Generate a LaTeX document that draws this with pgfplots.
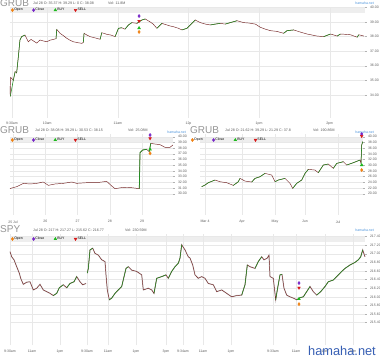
\documentclass[border=0pt]{standalone}
\usepackage{fontspec}
\setmainfont{Liberation Sans}
\usepackage{pgfplots}
\pgfplotsset{compat=1.18}
\definecolor{candleR}{RGB}{115,35,35}
\definecolor{candleG}{RGB}{35,140,35}
\definecolor{opnC}{RGB}{240,130,20}
\definecolor{clsC}{RGB}{120,40,200}
\definecolor{buyC}{RGB}{30,185,30}
\definecolor{selC}{RGB}{215,25,25}
\definecolor{hdrC}{RGB}{150,150,150}
\definecolor{hamC}{RGB}{80,150,220}
\definecolor{wmC}{RGB}{55,95,180}
\newcommand{\tf}{\fontsize{3.5}{4}\selectfont}
\newcommand{\hf}{\fontsize{3.6}{4}\selectfont}
\pgfplotsset{
  panel/.style={
    scale only axis, clip=false,
    axis line style={draw=none},
    grid=major,
    major grid style={draw=gray!18, line width=0.3pt},
    xtick style={draw=none},
    ytick style={draw=gray!60, line width=0.3pt},
    major tick length=1.5pt,
    tick align=outside,
    ytick pos=right, yticklabel pos=right,
    tick label style={font=\tf, text=gray!75!black},
    yticklabel style={/pgf/number format/.cd, fixed, fixed zerofill, precision=2, assume math mode=true},
    xticklabel style={yshift=-0.5pt},
    legend columns=4,
    legend style={draw=none, fill=none, font=\tf, anchor=west, inner sep=0pt,
      nodes={inner sep=0.6pt}, /tikz/every even column/.append style={column sep=9pt}},
    legend image code/.code={\draw[##1] plot coordinates {(1.5pt,0pt)};},
  },
  opn/.style={only marks, mark=diamond*, mark size=1.6pt, color=opnC},
  cls/.style={only marks, mark=diamond*, mark size=1.6pt, color=clsC},
  buy/.style={only marks, mark=triangle*, mark size=1.6pt, color=buyC},
  sel/.style={only marks, mark=triangle*, mark size=1.6pt, color=selC, mark options={rotate=180}},
  price/.style={candleR, line width=0.45pt, forget plot, unbounded coords=jump},
  up/.style={candleG, line width=0.55pt, forget plot, unbounded coords=jump},
  wick/.style={gray!40, line width=1.1pt, forget plot, unbounded coords=jump},
}
\begin{document}
\begin{tikzpicture}
\useasboundingbox (0pt,0pt) rectangle (380pt,-358pt);
\fill[white] (0pt,0pt) rectangle (380pt,-358pt);
% grey header bands
\fill[gray!13] (10pt,-7.3pt) rectangle (365pt,-13.5pt);
\fill[gray!13] (10pt,-137pt) rectangle (173pt,-142pt);
\fill[gray!13] (200pt,-137pt) rectangle (363pt,-142pt);
\fill[gray!13] (10pt,-236.5pt) rectangle (365pt,-241.5pt);

% ---------------- top panel: GRUB intraday
\begin{axis}[panel, at={(10pt,-7pt)}, anchor=north west, width=355pt, height=111pt,
  xmin=9.472, xmax=14.5, ymin=32.42, ymax=40.02,
  xtick={9.5,10,11,12,13,14}, xticklabels={9:30am,10am,11am,12p,1pm,2pm},
  xticklabel style={yshift=1.2pt},
  ytick={34,35,...,40},
  legend style={at={(axis description cs:0.003,0.972)}}]
\addplot[price] table[row sep=\\]{x y\\
9.472 34.60\\ 9.476 33.90\\ 9.482 35.20\\ 9.519 35.00\\ 9.545 35.60\\ 9.566 35.50\\ 9.590 36.60\\
9.613 37.76\\ 9.637 37.99\\ 9.684 38.10\\ 9.731 37.64\\ 9.770 37.80\\ 9.802 37.70\\ 9.850 37.55\\
9.897 37.76\\ 9.940 37.70\\ 9.992 37.64\\ 10.040 37.75\\ 10.086 37.80\\ 10.124 37.85\\ 10.134 38.49\\
10.181 38.22\\ 10.230 38.05\\ 10.276 37.88\\ 10.320 37.75\\ 10.370 37.64\\ 10.430 37.58\\ 10.489 37.53\\
10.511 37.60\\ 10.521 38.22\\ 10.560 38.10\\ 10.606 37.99\\ 10.680 37.90\\ 10.748 37.81\\ 10.772 38.26\\
10.843 38.15\\ 10.900 38.10\\ 10.961 37.99\\ 11.008 38.56\\ 11.056 38.60\\ 11.100 38.50\\ 11.150 38.79\\
11.198 38.95\\ 11.269 38.90\\ 11.340 39.13\\ 11.387 39.20\\ 11.457 39.00\\ 11.500 38.85\\ 11.552 38.56\\
11.623 38.90\\ 11.694 38.79\\ 11.740 38.72\\ 11.788 38.67\\ 11.859 38.56\\ 11.907 38.45\\ 11.978 38.56\\
12.025 38.79\\ 12.096 39.13\\ 12.167 38.95\\ 12.240 38.85\\ 12.309 38.79\\ 12.380 38.85\\ 12.450 38.90\\
12.520 38.85\\ 12.592 38.95\\ 12.687 39.08\\ 12.781 38.95\\ 12.860 38.92\\ 12.947 38.85\\ 13.018 38.63\\
13.090 38.50\\ 13.160 38.40\\ 13.250 38.35\\ 13.348 38.22\\ 13.396 38.40\\ 13.490 38.45\\ 13.585 38.30\\
13.680 38.17\\ 13.750 38.10\\ 13.822 38.03\\ 13.915 37.99\\ 14.011 38.17\\ 14.060 38.10\\ 14.106 38.03\\
14.152 38.17\\ 14.220 38.15\\ 14.294 38.12\\ 14.389 37.95\\ 14.412 38.12\\ 14.483 38.03\\};
\addplot[up] table[row sep=\\]{x y\\
9.476 33.90\\ 9.519 35.00\\ 9.545 35.60\\ 9.55 nan\\
9.566 35.50\\ 9.590 36.60\\ 9.613 37.76\\ 9.637 37.99\\ 9.684 38.10\\ 9.70 nan\\
10.124 37.85\\ 10.134 38.49\\ 10.14 nan\\
10.511 37.60\\ 10.521 38.22\\ 10.53 nan\\
10.748 37.81\\ 10.772 38.26\\ 10.78 nan\\
10.961 37.99\\ 11.008 38.56\\ 11.056 38.60\\ 11.06 nan\\
11.100 38.50\\ 11.150 38.79\\ 11.198 38.95\\ 11.20 nan\\
11.269 38.90\\ 11.340 39.13\\ 11.387 39.20\\ 11.39 nan\\
11.552 38.56\\ 11.623 38.90\\ 11.63 nan\\
11.907 38.45\\ 11.978 38.56\\ 12.025 38.79\\ 12.096 39.13\\ 12.10 nan\\
12.309 38.79\\ 12.380 38.85\\ 12.450 38.90\\ 12.46 nan\\
12.520 38.85\\ 12.592 38.95\\ 12.687 39.08\\ 12.69 nan\\
13.348 38.22\\ 13.396 38.40\\ 13.490 38.45\\ 13.50 nan\\
13.915 37.99\\ 14.011 38.17\\ 14.02 nan\\
14.106 38.03\\ 14.152 38.17\\ 14.16 nan\\
14.389 37.95\\ 14.412 38.12\\};
\addplot[opn] coordinates {(11.30,38.31)};
\addplot[cls] coordinates {(11.30,39.40)};
\addplot[buy] coordinates {(11.30,38.58)};
\addplot[sel] coordinates {(11.30,39.06)};
\legend{Open,Close,BUY,SELL}
\end{axis}

% ---------------- middle left: GRUB 5 days
\begin{axis}[panel, at={(10pt,-134pt)}, anchor=north west, width=163pt, height=81pt,
  xmin=24.907, xmax=29.961, ymin=26.26, ymax=40.47,
  xtick={25,26,27,28,29}, xticklabels={25 Jul,26,27,28,29},
  ytick={30,31,...,40},
  legend style={at={(axis description cs:0.006,0.926)}}]
\addplot[price] table[row sep=\\]{x y\\
24.907 30.90\\ 25.000 31.05\\ 25.114 31.23\\ 25.320 31.81\\ 25.527 31.70\\ 25.734 31.81\\ 25.940 32.05\\
26.095 31.46\\ 26.302 31.70\\ 26.560 31.81\\ 26.820 32.05\\ 26.975 31.81\\ 27.285 31.93\\ 27.595 31.93\\
27.905 32.16\\ 28.060 31.35\\ 28.163 30.88\\ 28.420 31.11\\ 28.680 31.05\\ 28.916 30.88\\ 28.938 37.19\\
29.020 37.66\\ 29.145 37.78\\ 29.225 37.37\\ 29.270 38.83\\ 29.403 38.71\\ 29.558 38.60\\ 29.713 38.13\\
29.868 38.13\\ 29.955 38.54\\};
\addplot[up, line width=0.75pt] table[row sep=\\]{x y\\
28.916 30.88\\ 28.938 37.19\\ 29.020 37.66\\ 29.145 37.78\\ 29.15 nan\\
29.225 37.37\\ 29.270 38.83\\};
\addplot[opn] coordinates {(29.25,37.08)};
\addplot[cls] coordinates {(29.25,40.29)};
\addplot[buy] coordinates {(29.25,37.78)};
\addplot[sel] coordinates {(29.25,39.70)};
\legend{Open,Close,BUY,SELL}
\end{axis}

% ---------------- middle right: GRUB 6 months
\begin{axis}[panel, at={(200pt,-134pt)}, anchor=north west, width=163pt, height=81pt,
  xmin=0, xmax=163, ymin=12.53, ymax=40.95,
  xtick={5,42,75,105,138}, xticklabels={Mar 4,Apr,May,Jun,Jul},
  ytick={20,22,...,40},
  legend style={at={(axis description cs:-0.055,0.926)}}]
\addplot[price] table[row sep=\\]{x y\\
1.7 22.46\\ 5.0 23.04\\ 8.3 23.86\\ 11.5 24.30\\ 15.0 24.80\\ 20.0 24.20\\ 26.7 23.86\\ 33.3 22.92\\
38.3 24.20\\ 40.0 25.38\\ 45.0 24.44\\ 51.7 24.09\\ 55.0 25.38\\ 60.0 25.96\\ 65.0 27.13\\ 71.7 26.55\\
75.0 24.20\\ 78.3 24.80\\ 85.0 25.38\\ 90.0 23.63\\ 92.7 21.87\\ 96.7 23.63\\ 101.7 24.80\\ 105.0 27.13\\
108.3 28.54\\ 115.0 28.30\\ 118.3 27.37\\ 123.3 30.06\\ 128.3 30.41\\ 133.3 28.89\\ 136.7 30.64\\
143.3 31.23\\ 146.7 30.06\\ 153.3 30.88\\ 160.0 31.81\\ 161.0 30.64\\ 161.7 37.08\\ 162.7 38.25\\};
\addplot[up] table[row sep=\\]{x y\\
1.7 22.46\\ 5.0 23.04\\ 8.3 23.86\\ 11.5 24.30\\ 15.0 24.80\\ 16 nan\\
33.3 22.92\\ 38.3 24.20\\ 40.0 25.38\\ 41 nan\\
51.7 24.09\\ 55.0 25.38\\ 60.0 25.96\\ 65.0 27.13\\ 66 nan\\
75.0 24.20\\ 78.3 24.80\\ 85.0 25.38\\ 86 nan\\
92.7 21.87\\ 96.7 23.63\\ 101.7 24.80\\ 105.0 27.13\\ 108.3 28.54\\ 109 nan\\
118.3 27.37\\ 123.3 30.06\\ 128.3 30.41\\ 129 nan\\
133.3 28.89\\ 136.7 30.64\\ 143.3 31.23\\ 144 nan\\
146.7 30.06\\ 153.3 30.88\\ 160.0 31.81\\ 160.5 nan\\
161.0 30.64\\ 161.7 37.08\\ 162.7 38.25\\};
\addplot[opn] coordinates {(161.7,28.30)};
\addplot[cls] coordinates {(161.7,40.94)};
\addplot[buy] coordinates {(161.7,30.06)};
\addplot[sel] coordinates {(161.7,40.23)};
\legend{Open,Close,BUY,SELL}
\end{axis}

% ---------------- bottom: SPY multi-day
\begin{axis}[panel, at={(10pt,-234pt)}, anchor=north west, width=355pt, height=111pt,
  xmin=0, xmax=355, ymin=214.88, ymax=217.46,
  xtick={0,22,50,77,98,126,156,173,193,221,263,286,315,343},
  xticklabels={9:30am,11am,1pm,9:30am,11am,1pm,3pm,9:34am,11am,1pm,9:33am,11am,1pm,3pm},
  ytick={215.4,215.6,...,217.45},
  legend style={at={(axis description cs:0.003,0.955)}}]
\addplot[wick] table[row sep=\\]{x y\\
0 217.05\\ 1.7 216.93\\ 4 216.86\\ 6.7 216.70\\ 9.3 216.55\\ 10.7 216.43\\ 13.3 216.29\\ 16.7 216.34\\
20 216.35\\ 23.3 216.16\\ 26.7 216.20\\ 30 216.29\\ 33.3 216.16\\ 36.7 216.12\\ 40 216.08\\ 43.3 216.03\\
46.7 216.08\\ 49.3 216.21\\ 53.3 216.28\\ 56.7 216.21\\ 60 216.31\\ 64 216.35\\ 66.7 216.47\\ 70 216.35\\
72.7 216.28\\ 76 216.31\\ 76.6 nan\\
77.3 216.55\\ 78.3 216.66\\ 80 217.09\\ 82.7 217.13\\ 85 217.01\\ 88.3 216.97\\ 91.7 216.86\\ 95 216.82\\
96 216.51\\ 97.3 216.16\\ 99.3 215.93\\ 101.7 215.97\\ 105 216.08\\ 108.3 216.16\\ 111.7 216.24\\
116 216.66\\ 118.3 216.70\\ 121.7 216.62\\ 126.7 216.59\\ 131.7 216.51\\ 133.3 216.16\\ 138.3 216.20\\
141.7 216.16\\ 144 216.08\\ 146.7 216.43\\ 151.7 216.47\\ 156 216.51\\ 158.3 216.43\\ 161.7 216.59\\
165 216.70\\ 168.3 216.78\\ 170 216.90\\ 171.7 217.21\\ 175 217.09\\ 178.3 216.93\\ 180 216.90\\
182.7 216.74\\ 185 216.51\\ 188.3 216.43\\ 191.7 216.47\\ 195 216.43\\ 198.3 216.31\\ 203.3 216.28\\
206.7 216.12\\ 211.7 216.16\\ 216.7 216.08\\ 221.7 216.00\\ 226.7 216.03\\ 231.7 216.04\\ 235 216.28\\
237.3 216.74\\ 240 216.70\\ 245 216.66\\ 248.3 216.82\\ 251.7 216.93\\ 254 216.86\\ 257.3 216.90\\
259 216.97\\ 260 216.47\\ 263.3 216.43\\ 265.7 215.93\\ 267.3 216.16\\ 270 216.51\\ 272 216.52\\
274 216.20\\ 276.7 216.04\\ 280 216.00\\ 283.3 215.97\\ 286.7 215.93\\ 290 215.98\\ 293.3 216.00\\
296.7 216.12\\ 300 216.24\\ 303.3 216.12\\ 306.7 216.04\\ 310.7 216.12\\ 315 216.24\\ 318.3 216.35\\
323.3 216.39\\ 326.7 216.47\\ 331.7 216.59\\ 335 216.66\\ 340 216.74\\ 345 216.80\\ 348.3 216.86\\
350.7 216.93\\ 352.7 217.09\\ 355 216.93\\};
\addplot[price] table[row sep=\\]{x y\\
0 217.05\\ 1.7 216.93\\ 4 216.86\\ 6.7 216.70\\ 9.3 216.55\\ 10.7 216.43\\ 13.3 216.29\\ 16.7 216.34\\
20 216.35\\ 23.3 216.16\\ 26.7 216.20\\ 30 216.29\\ 33.3 216.16\\ 36.7 216.12\\ 40 216.08\\ 43.3 216.03\\
46.7 216.08\\ 49.3 216.21\\ 53.3 216.28\\ 56.7 216.21\\ 60 216.31\\ 64 216.35\\ 66.7 216.47\\ 70 216.35\\
72.7 216.28\\ 76 216.31\\ 76.6 nan\\
77.3 216.55\\ 78.3 216.66\\ 80 217.09\\ 82.7 217.13\\ 85 217.01\\ 88.3 216.97\\ 91.7 216.86\\ 95 216.82\\
96 216.51\\ 97.3 216.16\\ 99.3 215.93\\ 101.7 215.97\\ 105 216.08\\ 108.3 216.16\\ 111.7 216.24\\
116 216.66\\ 118.3 216.70\\ 121.7 216.62\\ 126.7 216.59\\ 131.7 216.51\\ 133.3 216.16\\ 138.3 216.20\\
141.7 216.16\\ 144 216.08\\ 146.7 216.43\\ 151.7 216.47\\ 156 216.51\\ 158.3 216.43\\ 161.7 216.59\\
165 216.70\\ 168.3 216.78\\ 170 216.90\\ 171.7 217.21\\ 175 217.09\\ 178.3 216.93\\ 180 216.90\\
182.7 216.74\\ 185 216.51\\ 188.3 216.43\\ 191.7 216.47\\ 195 216.43\\ 198.3 216.31\\ 203.3 216.28\\
206.7 216.12\\ 211.7 216.16\\ 216.7 216.08\\ 221.7 216.00\\ 226.7 216.03\\ 231.7 216.04\\ 235 216.28\\
237.3 216.74\\ 240 216.70\\ 245 216.66\\ 248.3 216.82\\ 251.7 216.93\\ 254 216.86\\ 257.3 216.90\\
259 216.97\\ 260 216.47\\ 263.3 216.43\\ 265.7 215.93\\ 267.3 216.16\\ 270 216.51\\ 272 216.52\\
274 216.20\\ 276.7 216.04\\ 280 216.00\\ 283.3 215.97\\ 286.7 215.93\\ 290 215.98\\ 293.3 216.00\\
296.7 216.12\\ 300 216.24\\ 303.3 216.12\\ 306.7 216.04\\ 310.7 216.12\\ 315 216.24\\ 318.3 216.35\\
323.3 216.39\\ 326.7 216.47\\ 331.7 216.59\\ 335 216.66\\ 340 216.74\\ 345 216.80\\ 348.3 216.86\\
350.7 216.93\\ 352.7 217.09\\ 355 216.93\\};
\addplot[up] table[row sep=\\]{x y\\
43.3 216.03\\ 46.7 216.08\\ 49.3 216.21\\ 53.3 216.28\\ 54 nan\\
56.7 216.21\\ 60 216.31\\ 64 216.35\\ 66.7 216.47\\ 67 nan\\
77.3 216.55\\ 78.3 216.66\\ 80 217.09\\ 82.7 217.13\\ 83 nan\\
99.3 215.93\\ 101.7 215.97\\ 105 216.08\\ 108.3 216.16\\ 111.7 216.24\\ 116 216.66\\ 118.3 216.70\\ 119 nan\\
144 216.08\\ 146.7 216.43\\ 151.7 216.47\\ 156 216.51\\ 157 nan\\
158.3 216.43\\ 161.7 216.59\\ 165 216.70\\ 168.3 216.78\\ 170 216.90\\ 171.7 217.21\\ 172 nan\\
231.7 216.04\\ 235 216.28\\ 237.3 216.74\\ 238 nan\\
245 216.66\\ 248.3 216.82\\ 251.7 216.93\\ 252 nan\\
265.7 215.93\\ 267.3 216.16\\ 270 216.51\\ 272 216.52\\ 273 nan\\
286.7 215.93\\ 290 215.98\\ 293.3 216.00\\ 296.7 216.12\\ 300 216.24\\ 301 nan\\
306.7 216.04\\ 310.7 216.12\\ 315 216.24\\ 318.3 216.35\\ 323.3 216.39\\ 326.7 216.47\\ 331.7 216.59\\
335 216.66\\ 340 216.74\\ 345 216.80\\ 348.3 216.86\\ 350.7 216.93\\ 352.7 217.09\\};
\addplot[opn] coordinates {(289,215.83)};
\addplot[cls] coordinates {(289,216.32)};
\addplot[buy] coordinates {(289,215.95)};
\addplot[sel] coordinates {(289,216.21)};
\legend{Open,Close,BUY,SELL}
\end{axis}

% ---------------- header texts
\node[anchor=base west, inner sep=0, font=\fontsize{10}{10}\selectfont, text=hdrC] at (0pt,-7pt) {GRUB};
\node[anchor=base west, inner sep=0, font=\hf, text=gray!70!black] at (33pt,-4.7pt) {Jul 28 O: 35.37 H: 39.29 L: 0 C: 38.08};
\node[anchor=base west, inner sep=0, font=\hf, text=gray!70!black] at (108pt,-4.7pt) {Vol: 11.8M};
\node[anchor=base east, inner sep=0, font=\tf, text=hamC] at (374pt,-4.3pt) {hamaha.net};

\node[anchor=base west, inner sep=0, font=\fontsize{10}{10}\selectfont, text=hdrC] at (0pt,-133.3pt) {GRUB};
\node[anchor=base west, inner sep=0, font=\hf, text=gray!70!black] at (35pt,-132pt) {Jul 28 O: 38.08 H: 39.29 L: 30.53 C: 38.15};
\node[anchor=base west, inner sep=0, font=\hf, text=gray!70!black] at (128pt,-132pt) {Vol: 25.08M};
\node[anchor=base east, inner sep=0, font=\tf, text=hamC] at (186pt,-133.5pt) {hamaha.net};

\node[anchor=base west, inner sep=0, font=\fontsize{10}{10}\selectfont, text=hdrC] at (190pt,-133.3pt) {GRUB};
\node[anchor=base west, inner sep=0, font=\hf, text=gray!70!black] at (225pt,-132pt) {Jul 28 O: 21.62 H: 39.29 L: 21.29 C: 37.8};
\node[anchor=base west, inner sep=0, font=\hf, text=gray!70!black] at (313pt,-132pt) {Vol: 190.86M};
\node[anchor=base east, inner sep=0, font=\tf, text=hamC] at (374pt,-133.5pt) {hamaha.net};

\node[anchor=base west, inner sep=0, font=\fontsize{10}{10}\selectfont, text=hdrC] at (0pt,-232.3pt) {SPY};
\node[anchor=base west, inner sep=0, font=\hf, text=gray!70!black] at (33pt,-231.5pt) {Jul 28 O: 217 H: 217.27 L: 215.62 C: 216.77};
\node[anchor=base west, inner sep=0, font=\hf, text=gray!70!black] at (125pt,-231.5pt) {Vol: 230.59M};
\node[anchor=base east, inner sep=0, font=\tf, text=hamC] at (374pt,-231.5pt) {hamaha.net};

\node[anchor=base east, inner sep=0, font=\fontsize{12.8}{13}\selectfont, text=wmC] at (376pt,-355.5pt) {hamaha.net};
\end{tikzpicture}
\end{document}
